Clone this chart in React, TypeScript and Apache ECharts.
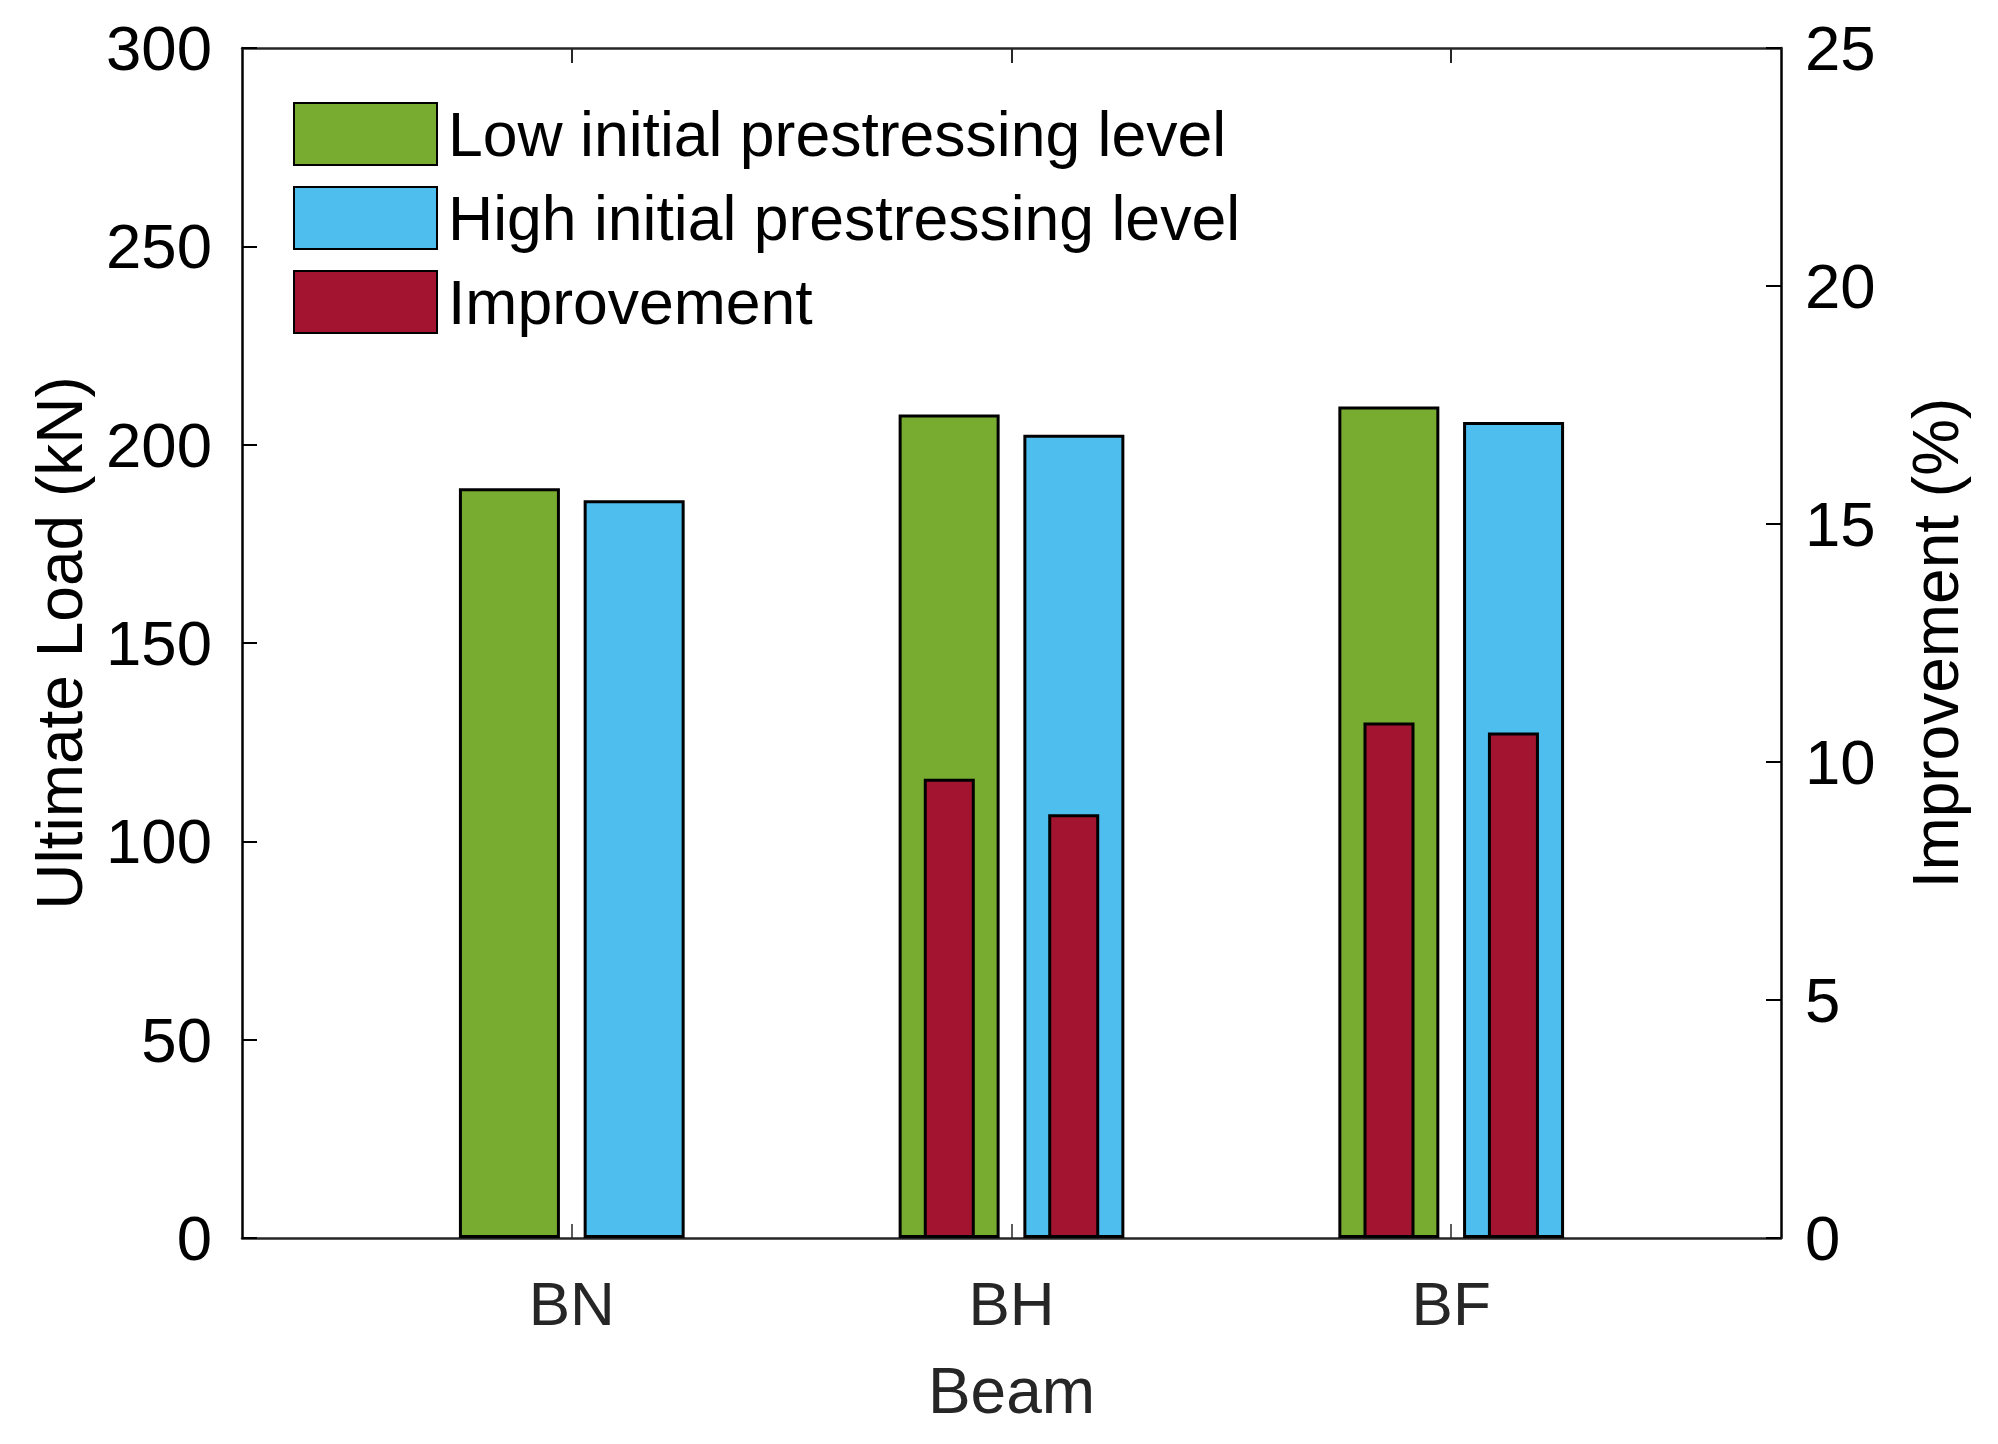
import React, { useEffect, useRef } from "react";
import * as echarts from "echarts";

const categories = ["BN", "BH", "BF"];
const lowLevel = [189, 207.6, 209.6];
const highLevel = [186, 202.5, 205.7];
const improvementLow: (number | string)[] = ["-", 9.65, 10.83];
const improvementHigh: (number | string)[] = ["-", 8.9, 10.62];
const leftTicks = { min: 0, max: 300, interval: 50 };
const rightTicks = { min: 0, max: 25, interval: 5 };

const FONT = "'Liberation Sans', Arial, Helvetica, sans-serif";
const GREEN = "#77AC30";
const BLUE = "#4DBEEE";
const RED = "#A2142F";

export default function App() {
  const ref = useRef<HTMLDivElement>(null);
  useEffect(() => {
    document.body.style.margin = "0";
    if (!ref.current) return;
    const chart = echarts.init(ref.current, undefined, { renderer: "svg" });
    const frameLeft = 242;
    const frameTop = 48;
    const frameW = 1539;
    const frameH = 1190;
    const unit = frameW / 3.5;
    const option: any = {
      animation: false,
      backgroundColor: "#fff",
      textStyle: { fontFamily: FONT },
      legend: {
        orient: "vertical",
        left: 293,
        top: 102,
        padding: 0,
        itemWidth: 143,
        itemHeight: 62,
        itemGap: 20,
        icon: "rect",
        textStyle: { fontSize: 62.5, color: "#000", fontFamily: FONT, padding: [0, 0, 0, 6] },
        data: ["Low initial prestressing level", "High initial prestressing level", "Improvement"],
      },
      grid: [
        { left: frameLeft, top: frameTop, width: frameW, height: frameH },
        { left: frameLeft + 0.25 * unit, top: frameTop, width: 3 * unit, height: frameH },
      ],
      xAxis: [
        {
          gridIndex: 0, type: "value", min: 0, max: 1, position: "bottom",
          axisLine: { show: true, onZero: false, lineStyle: { color: "#262626", width: 2.5 } },
          axisTick: { show: false }, axisLabel: { show: false }, splitLine: { show: false },
        },
        {
          gridIndex: 0, type: "value", min: 0, max: 1, position: "top",
          axisLine: { show: true, onZero: false, lineStyle: { color: "#262626", width: 2.5 } },
          axisTick: { show: false }, axisLabel: { show: false }, splitLine: { show: false },
        },
        {
          gridIndex: 1, type: "category", data: categories, position: "bottom",
          axisLine: { show: false, onZero: false },
          axisTick: { show: true, inside: true, alignWithLabel: true, length: 14, lineStyle: { color: "#262626", width: 1.5 } },
          axisLabel: { fontSize: 62, color: "#262626", margin: 34, fontFamily: FONT },
          name: "Beam", nameLocation: "middle", nameGap: 121,
          nameTextStyle: { fontSize: 64, color: "#262626", fontFamily: FONT },
          splitLine: { show: false },
        },
        {
          gridIndex: 1, type: "category", data: categories, position: "top",
          axisLine: { show: false, onZero: false },
          axisTick: { show: true, inside: true, alignWithLabel: true, length: 15, lineStyle: { color: "#262626", width: 2 } },
          axisLabel: { show: false }, splitLine: { show: false },
        },
      ],
      yAxis: [
        {
          gridIndex: 0, type: "value", position: "left", ...leftTicks,
          axisLine: { show: true, onZero: false, lineStyle: { color: "#000", width: 2.5 } },
          axisTick: { show: true, inside: true, length: 15, lineStyle: { color: "#000", width: 2 } },
          axisLabel: { fontSize: 63.5, color: "#000", margin: 30, fontFamily: FONT },
          splitLine: { show: false },
          name: "Ultimate Load (kN)", nameLocation: "middle", nameGap: 150, nameRotate: 90,
          nameTextStyle: { fontSize: 64, color: "#000", fontFamily: FONT },
        },
        {
          gridIndex: 0, type: "value", position: "right", ...rightTicks,
          axisLine: { show: true, onZero: false, lineStyle: { color: "#000", width: 2.5 } },
          axisTick: { show: true, inside: true, length: 15, lineStyle: { color: "#000", width: 2 } },
          axisLabel: { fontSize: 63.5, color: "#000", margin: 24, fontFamily: FONT },
          splitLine: { show: false },
          name: "Improvement (%)", nameLocation: "middle", nameGap: 123, nameRotate: 90,
          nameTextStyle: { fontSize: 64, color: "#000", fontFamily: FONT },
        },
        { gridIndex: 1, type: "value", ...leftTicks, show: false, splitLine: { show: false } },
        { gridIndex: 1, type: "value", ...rightTicks, show: false, splitLine: { show: false } },
      ],
      series: [
        {
          name: "Low initial prestressing level", type: "bar", xAxisIndex: 2, yAxisIndex: 2,
          data: lowLevel, barWidth: 101, barGap: "23.5%",
          itemStyle: { color: GREEN, borderColor: "#000", borderWidth: 3 },
        },
        {
          name: "High initial prestressing level", type: "bar", xAxisIndex: 2, yAxisIndex: 2,
          data: highLevel, barWidth: 101, barGap: "23.5%",
          itemStyle: { color: BLUE, borderColor: "#000", borderWidth: 3 },
        },
        {
          name: "Improvement", type: "bar", xAxisIndex: 3, yAxisIndex: 3,
          data: improvementLow, barWidth: 51, barGap: "144%",
          itemStyle: { color: RED, borderColor: "#000", borderWidth: 3 },
        },
        {
          name: "Improvement", type: "bar", xAxisIndex: 3, yAxisIndex: 3,
          data: improvementHigh, barWidth: 51, barGap: "144%",
          itemStyle: { color: RED, borderColor: "#000", borderWidth: 3 },
        },
      ],
    };
    chart.setOption(option);
    return () => chart.dispose();
  }, []);
  return <div ref={ref} style={{ width: 1998, height: 1444 }} />;
}
